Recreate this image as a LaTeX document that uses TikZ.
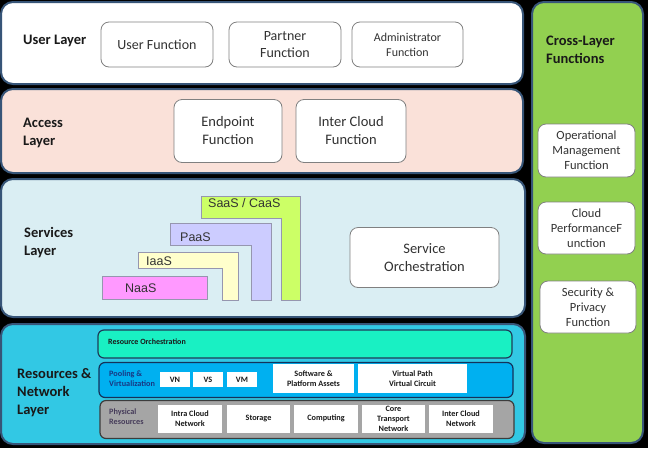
\documentclass[tikz,border=0pt]{standalone}
\usepackage{fontspec}
\setmainfont{Carlito}
\newfontfamily\arialf{Liberation Sans}
\definecolor{layerline}{RGB}{55,85,120}
\definecolor{accessfill}{RGB}{250,225,217}
\definecolor{servfill}{RGB}{218,238,243}
\definecolor{resfill}{RGB}{50,200,228}
\definecolor{crossfill}{RGB}{146,208,80}
\definecolor{orchfill}{RGB}{25,240,195}
\definecolor{poolfill}{RGB}{0,176,240}
\definecolor{physfill}{RGB}{165,165,165}
\definecolor{naasfill}{RGB}{255,153,255}
\definecolor{iaasfill}{RGB}{255,255,204}
\definecolor{paasfill}{RGB}{204,204,255}
\definecolor{saasfill}{RGB}{204,255,102}
\definecolor{lline}{RGB}{150,150,175}
\definecolor{txt}{RGB}{25,25,25}
\definecolor{boxtxt}{RGB}{50,50,50}
\definecolor{pooltxt}{RGB}{25,55,130}
\definecolor{phystxt}{RGB}{70,60,90}
\definecolor{orchline}{RGB}{30,60,90}
\definecolor{poolline}{RGB}{20,50,90}
\definecolor{physline}{RGB}{60,60,60}
\tikzset{
  layer/.style={draw=layerline, line width=2pt, rounded corners=12pt, inner sep=0pt},
  lbl/.style={anchor=west, align=left, font=\fontsize{14.5}{18}\selectfont\bfseries, text=txt, inner sep=0pt},
  fbox/.style={draw=gray, line width=0.8pt, rounded corners=8pt, fill=white, align=center, text=boxtxt, inner sep=1pt},
  row/.style={line width=1.2pt, rounded corners=6pt, inner sep=0pt},
  sbox/.style={fill=white, align=center, text=txt, inner sep=0pt, font=\fontsize{8.2}{10}\selectfont\bfseries},
  lshape/.style={draw=lline, line width=0.6pt},
  ltxt/.style={anchor=west, font=\arialf\fontsize{12.5}{14}\selectfont, text=boxtxt, inner sep=0pt},
}
\begin{document}
\begin{tikzpicture}[x=1pt,y=-1pt]
\fill[black] (0,0) rectangle (648,448);
\useasboundingbox (0,0) rectangle (648,448);

% layers
\node[layer, fill=white, minimum width=522, minimum height=82] (user) at (262,43) {};
\node[layer, fill=accessfill, minimum width=522, minimum height=84] (access) at (262,131) {};
\node[layer, fill=servfill, minimum width=524, minimum height=138] (serv) at (263,248) {};
\node[layer, fill=resfill, minimum width=524, minimum height=120] (res) at (263,384) {};
\node[layer, fill=crossfill, minimum width=111, minimum height=441] (cross) at (587.5,222.5) {};

% user layer
\node[lbl] (userlbl) at (23,41) {User Layer};
\node[fbox, minimum width=112, minimum height=45, font=\fontsize{14}{17}\selectfont] (ufun) at (157,44.5) {User Function};
\node[fbox, minimum width=112, minimum height=45, font=\fontsize{14}{17}\selectfont] (pfun) at (285,44.5) {Partner\\Function};
\node[fbox, minimum width=111, minimum height=45, font=\fontsize{12}{15}\selectfont] (afun) at (407.5,44.5) {Administrator\\Function};

% access layer
\node[lbl] (acclbl) at (23,133) {Access\\Layer};
\node[fbox, minimum width=108, minimum height=63, font=\fontsize{14.5}{18}\selectfont] (endp) at (228,131) {Endpoint\\Function};
\node[fbox, minimum width=110, minimum height=63, font=\fontsize{14.5}{18}\selectfont] (icf) at (351,131) {Inter Cloud\\Function};

% services layer
\node[lbl] (servlbl) at (24,243) {Services\\Layer};
\node[fbox, minimum width=149, minimum height=60, font=\fontsize{14.5}{18}\selectfont] (sorch) at (424.5,257.5) {Service\\Orchestration};

\draw[lshape, fill=saasfill] (201,196) -- (300,196) -- (300,300) -- (281,300) -- (281,218) -- (201,218) -- cycle;
\draw[lshape, fill=paasfill] (170,223) -- (271,223) -- (271,300) -- (251,300) -- (251,245) -- (170,245) -- cycle;
\draw[lshape, fill=iaasfill] (138,252) -- (238,252) -- (238,300) -- (222,300) -- (222,268) -- (138,268) -- cycle;
\node[lshape, fill=naasfill, minimum width=105, minimum height=23, inner sep=0pt] (naas) at (155,288) {};
\node[ltxt] (saast) at (208,203) {SaaS / CaaS};
\node[ltxt] (paast) at (180,237) {PaaS};
\node[ltxt] (iaast) at (146,261) {IaaS};
\node[ltxt] (naast) at (125,288.5) {NaaS};

% resources layer
\node[lbl] (reslbl) at (17,393) {Resources \&\\Network\\Layer};
\node[row, draw=orchline, fill=orchfill, minimum width=414, minimum height=28] (rorch) at (305,344) {};
\node[anchor=west, font=\fontsize{8}{10}\selectfont\bfseries, text=txt, inner sep=0pt] (rorcht) at (108,342) {Resource Orchestration};
\node[row, draw=poolline, fill=poolfill, minimum width=414, minimum height=35] (pool) at (306,380) {};
\node[anchor=west, align=left, font=\fontsize{8.2}{10}\selectfont\bfseries, text=pooltxt, inner sep=0pt] (poolt) at (109,379) {Pooling \&\\Virtualization};
\node[row, draw=physline, fill=physfill, minimum width=414, minimum height=38] (phys) at (307,419.5) {};
\node[anchor=west, align=left, font=\fontsize{8.2}{10}\selectfont\bfseries, text=phystxt, inner sep=0pt] (physt) at (109,417) {Physical\\Resources};

\node[sbox, minimum width=30, minimum height=15] (vn) at (175,379.5) {VN};
\node[sbox, minimum width=30, minimum height=15] (vs) at (208,379.5) {VS};
\node[sbox, minimum width=30, minimum height=15] (vm) at (242,379.5) {VM};
\node[sbox, minimum width=81, minimum height=29] (swp) at (313.5,378.5) {Software \&\\Platform Assets};
\node[sbox, minimum width=109, minimum height=29] (vpath) at (412.5,378.5) {Virtual Path\\Virtual Circuit};

\node[sbox, minimum width=64, minimum height=28] (intra) at (190,418.5) {Intra Cloud\\Network};
\node[sbox, minimum width=63, minimum height=28] (stor) at (258.5,418.5) {Storage};
\node[sbox, minimum width=64, minimum height=28] (comp) at (326,418.5) {Computing};
\node[sbox, minimum width=63, minimum height=28] (core) at (393.5,418.5) {Core\\Transport\\Network};
\node[sbox, minimum width=64, minimum height=28] (inter) at (461,418.5) {Inter Cloud\\Network};

% cross-layer
\node[lbl] (crosslbl) at (546,50) {Cross-Layer\\Functions};
\node[fbox, minimum width=97, minimum height=53, font=\fontsize{12.5}{15}\selectfont] (opm) at (586.5,150.5) {Operational\\Management\\Function};
\node[fbox, minimum width=97, minimum height=52, font=\fontsize{12.5}{15}\selectfont] (cpf) at (586.5,228) {Cloud\\PerformanceF\\unction};
\node[fbox, minimum width=96, minimum height=52, font=\fontsize{12.5}{15}\selectfont] (spf) at (588,307) {Security \&\\Privacy\\Function};
\end{tikzpicture}
\end{document}
